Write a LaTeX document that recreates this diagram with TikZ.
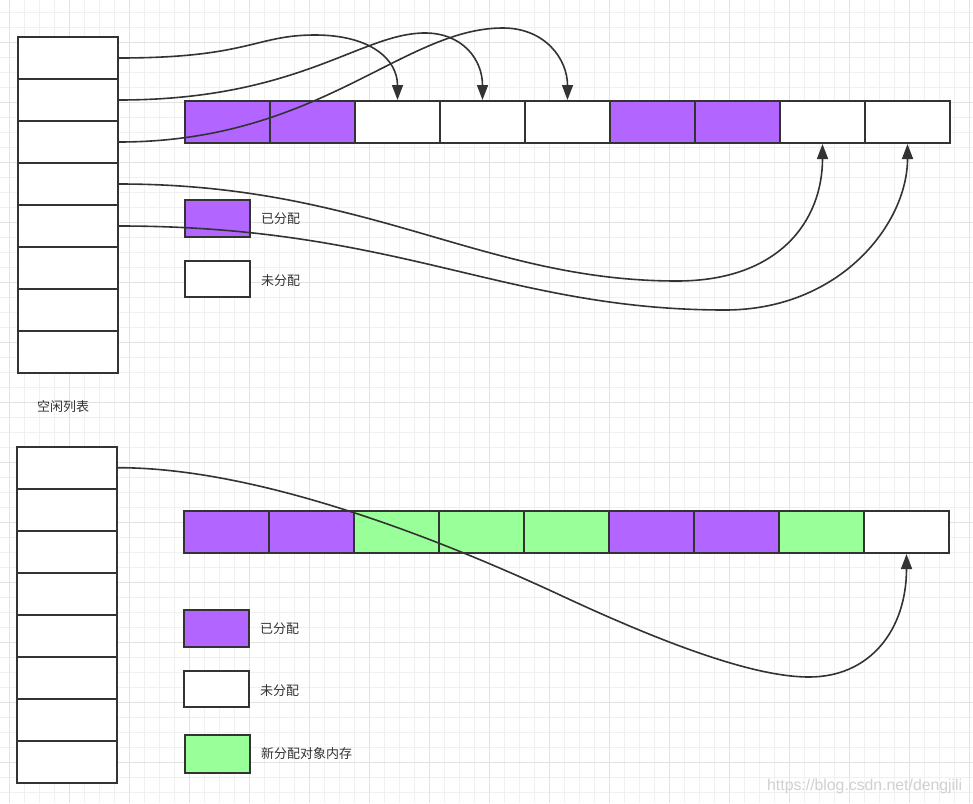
\documentclass[tikz,border=0pt]{standalone}
\usepackage{fontspec}
\newfontfamily\cjk{Noto Sans CJK SC}
\newfontfamily\wmfont{Liberation Sans}
\usetikzlibrary{arrows.meta}
\definecolor{lc}{HTML}{333333}
\definecolor{purp}{HTML}{B266FF}
\definecolor{grn}{HTML}{99FF99}
\definecolor{gmin}{HTML}{F0F0F0}
\definecolor{gmaj}{HTML}{E2E2E2}
\definecolor{wmc}{HTML}{D0D0D0}
\begin{document}
\begin{tikzpicture}[x=1pt,y=-1pt,
  cell/.style={draw=lc,line width=2pt,inner sep=0pt},
  flcell/.style={cell,fill=white,minimum width=100pt,minimum height=42pt},
  memcell/.style={cell,minimum width=85pt,minimum height=42pt},
  legbox/.style={cell,minimum width=65pt,minimum height=37pt},
  lbl/.style={font=\cjk\fontsize{13pt}{15pt}\selectfont,text=lc,inner sep=0pt,anchor=west},
  conn/.style={draw=lc,line width=1.6pt,-{Triangle[length=15pt,width=11pt]}},
  gminor/.style={draw=gmin,line width=1pt},
  gmajor/.style={draw=gmaj,line width=1pt}
]
\fill[white] (0,0) rectangle (973,803);
\useasboundingbox (0,0) rectangle (973,803);
% grid
\foreach \i in {0,...,64} \draw[gminor] ({9.3+15*\i},0) -- ({9.3+15*\i},803);
\foreach \j in {0,...,52} \draw[gminor] (0,{12.3+15*\j}) -- (973,{12.3+15*\j});
\foreach \i in {0,...,16} \draw[gmajor] ({9.3+60*\i},0) -- ({9.3+60*\i},803);
\foreach \j in {0,...,12} \draw[gmajor] (0,{42.3+60*\j}) -- (973,{42.3+60*\j});

% top free list
\foreach \k in {1,...,8} \node[flcell] (fa\k) at (68,{58+42*(\k-1)}) {};
\node[lbl] (falbl) at (37,407) {空闲列表};
% top memory
\foreach \c [count=\k] in {purp,purp,white,white,white,purp,purp,white,white}
  \node[memcell,fill=\c] (ma\k) at ({227.5+85*(\k-1)},122) {};
% top legend
\node[legbox,fill=purp] (la1) at (217.5,218.5) {};
\node[lbl] (la1t) at (261,219) {已分配};
\node[legbox,fill=white,minimum height=36pt] (la2) at (217.5,279) {};
\node[lbl] (la2t) at (261,281) {未分配};

% bottom free list
\foreach \k in {1,...,8} \node[flcell] (fb\k) at (67,{467.7+42*(\k-1)}) {};
% bottom memory
\foreach \c [count=\k] in {purp,purp,grn,grn,grn,purp,purp,grn,white}
  \node[memcell,fill=\c] (mb\k) at ({226.5+85*(\k-1)},532) {};
% bottom legend
\node[legbox,fill=purp] (lb1) at (216.5,628.5) {};
\node[lbl] (lb1t) at (260,629) {已分配};
\node[legbox,fill=white,minimum height=36pt] (lb2) at (216.5,689) {};
\node[lbl] (lb2t) at (260,691) {未分配};
\node[legbox,fill=grn,minimum height=38pt] (lb3) at (217.5,754) {};
\node[lbl] (lb3t) at (261,754) {新分配对象内存};

% connectors top
\draw[conn] (fa1.east) .. controls +(130,0) and (255,35) .. (315,35)
  .. controls (370,35) and ([yshift=41pt]ma3.north) .. (ma3.north);
\draw[conn] (fa2.east) .. controls +(180,0) and (361,33) .. (425,33)
  .. controls (462,33) and ([yshift=41pt]ma4.north) .. (ma4.north);
\draw[conn] (fa3.east) .. controls +(200,0) and (403,28) .. (503,28)
  .. controls (545,28) and ([yshift=41pt]ma5.north) .. (ma5.north);
\draw[conn] (fa4.east) .. controls +(250,0) and (482,281) .. (677,281)
  .. controls (780,281) and ([yshift=-76pt]ma8.south) .. (ma8.south);
\draw[conn] (fa5.east) .. controls +(280,0) and (505,310) .. (725,310)
  .. controls (840,310) and ([yshift=-80pt]ma9.south) .. (ma9.south);
% connector bottom
\draw[conn] (fb1.east) .. controls +(132,0) and (420,530) .. (560,595)
  .. controls (680,651) and (760,677) .. (809,677)
  .. controls (870,677) and ([yshift=-76pt]mb9.south) .. (mb9.south);

% watermark
\node[font=\wmfont\fontsize{15.8pt}{18pt}\selectfont,text=wmc,anchor=base west,inner sep=0pt] (wm) at (767,790) {https://blog.csdn.net/dengjili};
\end{tikzpicture}
\end{document}
